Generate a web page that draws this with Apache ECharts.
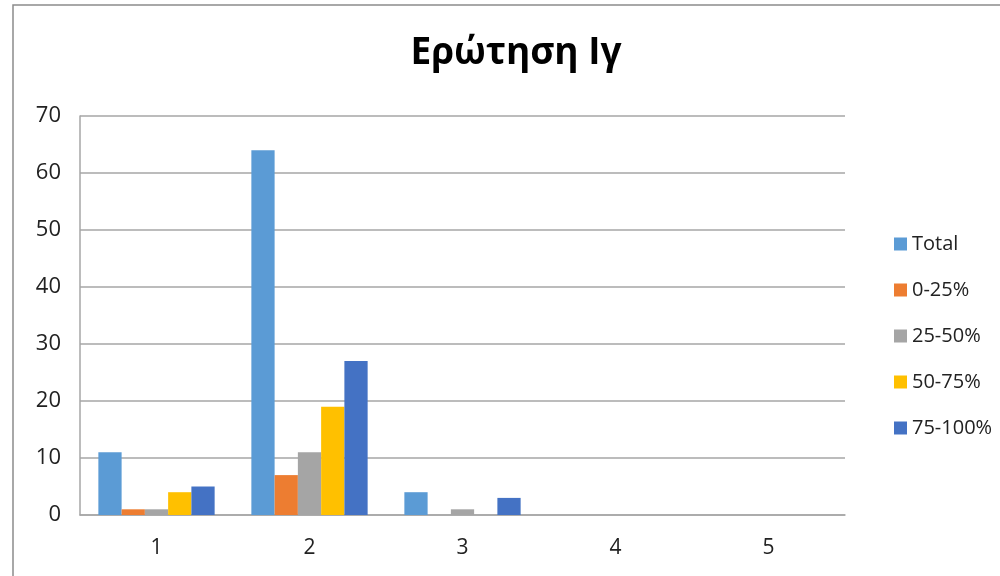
<!DOCTYPE html>
<html>
<head>
<meta charset="utf-8">
<script src="https://cdn.jsdelivr.net/npm/echarts@6/dist/echarts.min.js"></script>
<style>
  html, body { margin: 0; padding: 0; background: #fff; }
  #chart { width: 1000px; height: 576px; }
</style>
</head>
<body>
<div id="chart"></div>
<script>
// Ερώτηση Ιγ - ομαδοποιημένες στήλες
const categories = ['1', '2', '3', '4', '5'];
const seriesNames = ['Total', '0-25%', '25-50%', '50-75%', '75-100%'];
const seriesColors = ['#5B9BD5', '#ED7D31', '#A5A5A5', '#FFC000', '#4472C4'];
const totalValues = [11, 64, 4, 0, 0];
const q0to25 = [1, 7, 0, 0, 0];
const q25to50 = [1, 11, 1, 0, 0];
const q50to75 = [4, 19, 0, 0, 0];
const q75to100 = [5, 27, 3, 0, 0];
const yTicks = [0, 10, 20, 30, 40, 50, 60, 70];

const seriesData = [totalValues, q0to25, q25to50, q50to75, q75to100];

const chart = echarts.init(document.getElementById('chart'));

const option = {
    backgroundColor: '#fff',
    animation: false,
    title: {
        text: 'Ερώτηση Ιγ',
        left: 511,
        top: 30,
        textAlign: 'center',
        textStyle: {
            fontFamily: 'Open Sans',
            fontSize: 37,
            fontWeight: 'bold',
            color: '#000'
        }
    },
    legend: {
        orient: 'vertical',
        left: 889,
        top: 229,
        itemWidth: 13,
        itemHeight: 13,
        itemGap: 26,
        icon: 'rect',
        textStyle: {
            fontFamily: 'Open Sans',
            fontSize: 20,
            color: '#222'
        },
        data: seriesNames
    },
    grid: {
        left: 80,
        right: 155,
        top: 116,
        bottom: 61
    },
    xAxis: {
        type: 'category',
        data: categories,
        axisLine: { show: true, lineStyle: { color: '#a6a6a6', width: 1.5 } },
        axisTick: { show: false },
        axisLabel: {
            fontFamily: 'Open Sans',
            fontSize: 21,
            color: '#222',
            margin: 23
        }
    },
    yAxis: {
        type: 'value',
        min: yTicks[0],
        max: yTicks[yTicks.length - 1],
        interval: 10,
        axisLine: { show: true, lineStyle: { color: '#a6a6a6', width: 1.5 } },
        axisTick: { show: false },
        splitLine: { lineStyle: { color: '#a6a6a6', width: 1.5 } },
        axisLabel: {
            fontFamily: 'Open Sans',
            fontSize: 22,
            color: '#222',
            margin: 19
        }
    },
    series: seriesNames.map((name, i) => ({
        name: name,
        type: 'bar',
        data: seriesData[i],
        barGap: '0%',
        barCategoryGap: '24%',
        itemStyle: { color: seriesColors[i] }
    })),
    graphic: [
        // πλαίσιο γραφήματος
        {
            type: 'rect',
            shape: { x: 13, y: 5, width: 1000, height: 600 },
            style: { fill: 'none', stroke: '#8c8c8c', lineWidth: 1.5 },
            silent: true
        }
    ]
};

chart.setOption(option);
</script>
</body>
</html>
